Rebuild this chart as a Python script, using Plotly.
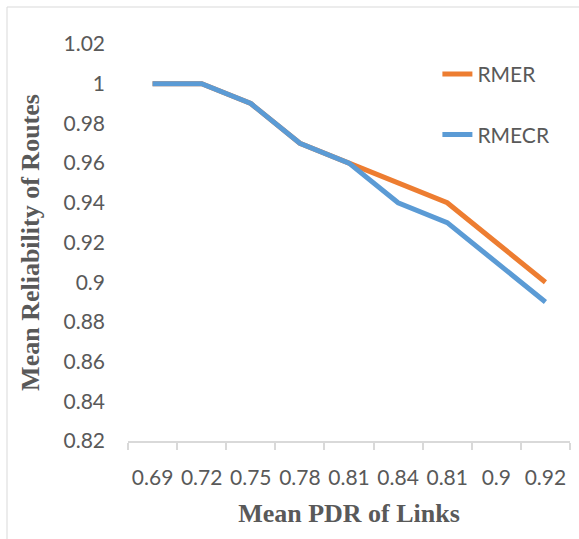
import plotly.graph_objects as go

x_labels = ["0.69", "0.72", "0.75", "0.78", "0.81", "0.84", "0.81", "0.9", "0.92"]
rmer = [1.00, 1.00, 0.99, 0.97, 0.96, 0.95, 0.94, 0.92, 0.90]
rmecr = [1.00, 1.00, 0.99, 0.97, 0.96, 0.94, 0.93, 0.91, 0.89]
y_ticks = [0.82, 0.84, 0.86, 0.88, 0.90, 0.92, 0.94, 0.96, 0.98, 1.00, 1.02]
y_ticktext = ["0.82", "0.84", "0.86", "0.88", "0.9", "0.92", "0.94", "0.96", "0.98", "1", "1.02"]

xpos = list(range(len(x_labels)))
grey = "#595959"
tick_font = dict(family="Lato", size=21, color=grey)
title_font = dict(family="Liberation Serif", size=26, color=grey)

fig = go.Figure()
fig.add_trace(go.Scatter(x=xpos, y=rmer, mode="lines", name="RMER", legendgroup="a",
                         line=dict(color="#ED7D31", width=5)))
fig.add_trace(go.Scatter(x=xpos, y=rmecr, mode="lines", name="RMECR", legendgroup="b",
                         line=dict(color="#5B9BD5", width=5)))

fig.update_layout(
    width=579, height=539,
    margin=dict(l=128, r=9, t=44, b=98),
    paper_bgcolor="white", plot_bgcolor="white",
    showlegend=True,
    legend=dict(x=0.70, y=0.975, xanchor="left", yanchor="top",
                font=dict(family="Lato", size=21, color=grey),
                tracegroupgap=30, bgcolor="rgba(0,0,0,0)"),
    xaxis=dict(range=[-0.5, len(x_labels) - 0.5], tickvals=xpos, ticktext=x_labels,
               ticks="", showgrid=False, zeroline=False, showline=True,
               linecolor="#d9d9d9", linewidth=1.5, tickfont=tick_font,
               ticklabelstandoff=17,
               minor=dict(tickvals=[i - 0.5 for i in range(len(x_labels) + 1)],
                          ticks="outside", ticklen=7, tickcolor="#d9d9d9", tickwidth=1.5),
               title=dict(text="<b>Mean PDR of Links</b>", font=title_font, standoff=16)),
    yaxis=dict(range=[0.82, 1.02], tickvals=y_ticks, ticktext=y_ticktext,
               ticks="", showgrid=False, zeroline=False, showline=False,
               tickfont=tick_font, ticklabelstandoff=22,
               title=dict(text="<b>Mean Reliability of Routes</b>", font=title_font, standoff=16)),
)

fig.add_shape(type="rect", xref="paper", yref="paper",
              x0=(7 - 128) / 442, x1=(620 - 128) / 442,
              y0=-(600 - 441) / 397, y1=1 + (44 - 7) / 397,
              line=dict(color="#d9d9d9", width=1), layer="below")

fig.write_html("out.html")
